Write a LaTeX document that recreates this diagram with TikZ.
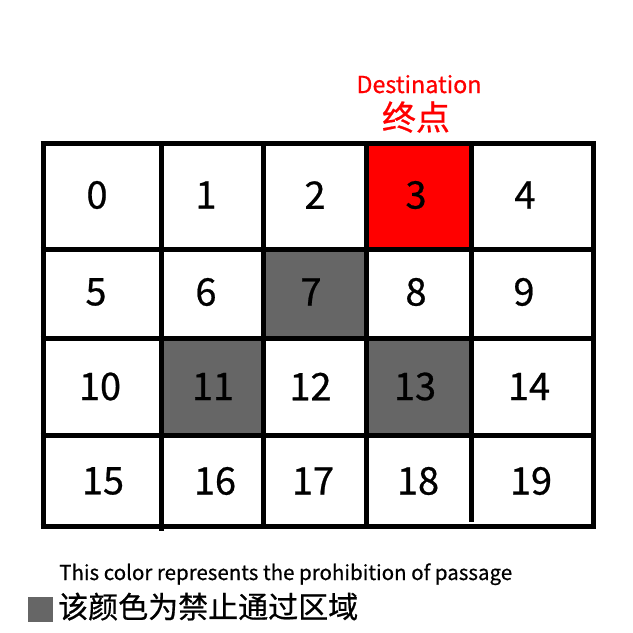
\documentclass[tikz,border=0pt]{standalone}
\usepackage{fontspec}
\setmainfont{Noto Sans CJK SC}
\newfontfamily\heavyfont[FakeBold=0.6]{Noto Sans CJK SC}
\definecolor{blockgray}{RGB}{102,102,102}
\begin{document}
\begin{tikzpicture}[x=1pt,y=-1pt,
  gridline/.style={line width=5pt,black},
  cellnum/.style={inner sep=0pt,font=\heavyfont\fontsize{38}{40}\selectfont},
  blocked/.style={fill=blockgray},
  goal/.style={fill=red}]
\useasboundingbox (0,0) rectangle (633,633);
\fill[white] (0,0) rectangle (633,633);
% coloured cells
\path[goal] (366.5,143.5) rectangle (471.5,249.5);
\path[blocked] (263.5,249.5) rectangle (366.5,338.5);
\path[blocked] (161.5,338.5) rectangle (263.5,435);
\path[blocked] (366.5,338.5) rectangle (471.5,435);
% grid lines
\foreach \y in {143.5,249.5,338.5,435,526}
  \draw[gridline] (40.5,\y) -- (596,\y);
\foreach \x in {43,263.5,366.5,593.5}
  \draw[gridline] (\x,141) -- (\x,528.5);
\draw[gridline] (161.5,141) -- (161.5,531);
\draw[gridline] (471.5,141) -- (471.5,522);
% numbers
\node[cellnum] (n0) at (97,195) {0};
\node[cellnum] (n1) at (206,195) {1};
\node[cellnum] (n2) at (315,195) {2};
\node[cellnum] (n3) at (416,195) {3};
\node[cellnum] (n4) at (525,195) {4};
\node[cellnum] (n5) at (96,292) {5};
\node[cellnum] (n6) at (206,292) {6};
\node[cellnum] (n7) at (311,292) {7};
\node[cellnum] (n8) at (416,292) {8};
\node[cellnum] (n9) at (524,292) {9};
\node[cellnum] (n10) at (100,386.5) {10};
\node[cellnum] (n11) at (213,386.5) {11};
\node[cellnum] (n12) at (310.5,386.5) {12};
\node[cellnum] (n13) at (415,386.5) {13};
\node[cellnum] (n14) at (529,386.5) {14};
\node[cellnum] (n15) at (103,481) {15};
\node[cellnum] (n16) at (215,481) {16};
\node[cellnum] (n17) at (313,481) {17};
\node[cellnum] (n18) at (418,481) {18};
\node[cellnum] (n19) at (531,481) {19};
% destination label
\node[inner sep=0pt,anchor=base,text=red,font=\heavyfont\fontsize{23.3}{25}\selectfont] (dest) at (419,93) {Destination};
\node[inner sep=0pt,anchor=base,text=red,font=\heavyfont\fontsize{34}{36}\selectfont] (destcn) at (416,130) {终点};
% legend
\node[inner sep=0pt,anchor=base west,font=\heavyfont\fontsize{20.5}{22}\selectfont] (legen) at (59,580) {This color represents the prohibition of passage};
\path[blocked] (28,597) rectangle (53,622) coordinate (sq);
\node[inner sep=0pt,anchor=base west,font=\heavyfont\fontsize{30}{32}\selectfont] (legcn) at (58,618) {该颜色为禁止通过区域};
\end{tikzpicture}
\end{document}
